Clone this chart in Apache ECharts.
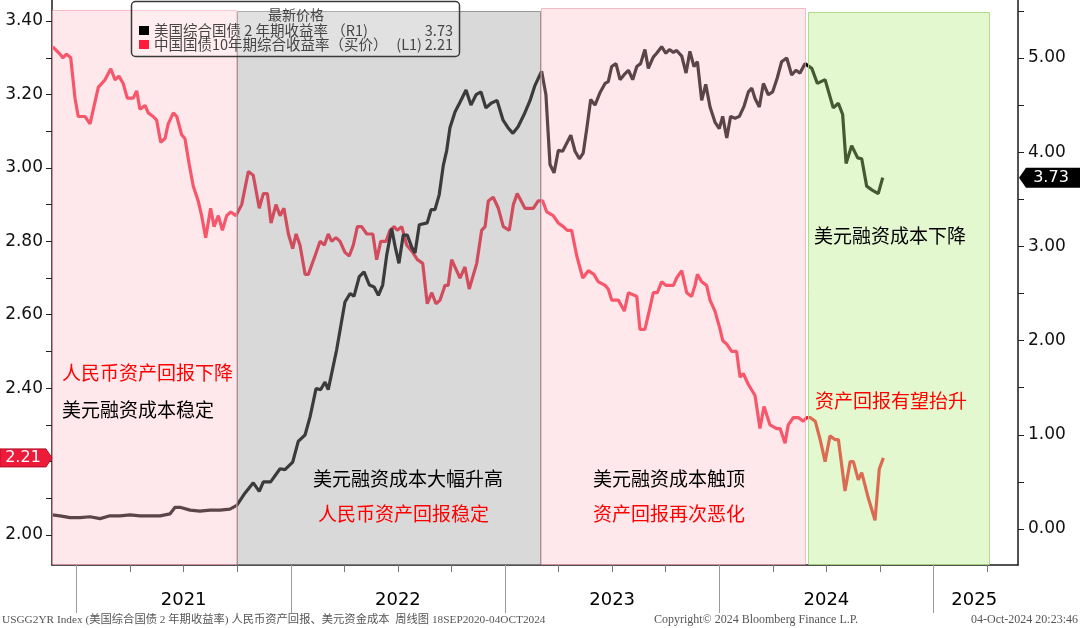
<!DOCTYPE html>
<html><head><meta charset="utf-8">
<script src="https://cdn.jsdelivr.net/npm/echarts@6/dist/echarts.min.js"></script>
<style>html,body{margin:0;padding:0;background:#fff}#c{width:1080px;height:628px}</style>
</head><body><div id="c"></div>
<script>
// ---- data (x = decimal year, y = yield %) ----
const us2yYield = [
[2020.886,0.15],[2020.923,0.14],[2020.970,0.12],[2021.016,0.12],[2021.063,0.13],[2021.110,0.11],[2021.156,0.14],[2021.203,0.14],[2021.250,0.15],[2021.296,0.14],[2021.343,0.14],[2021.390,0.14],[2021.436,0.16],[2021.460,0.23],[2021.483,0.23],[2021.530,0.20],[2021.576,0.19],[2021.623,0.20],[2021.670,0.20],[2021.716,0.21],
[2021.748,0.25],[2021.786,0.38],[2021.825,0.49],[2021.853,0.40],[2021.872,0.50],[2021.906,0.50],[2021.950,0.64],[2021.973,0.63],[2022.009,0.71],[2022.035,0.93],[2022.067,1.00],[2022.090,1.19],[2022.118,1.49],[2022.140,1.48],[2022.160,1.56],[2022.175,1.48],[2022.214,1.90],[2022.253,2.41],[2022.277,2.50],[2022.295,2.47],[2022.320,2.68],[2022.342,2.73],[2022.367,2.59],[2022.389,2.57],[2022.409,2.48],[2022.429,2.59],[2022.448,2.91],[2022.471,3.19],[2022.487,3.00],[2022.505,2.82],[2022.525,3.12],[2022.544,3.12],[2022.565,2.99],[2022.580,2.93],[2022.600,3.23],[2022.637,3.25],[2022.655,3.39],[2022.673,3.39],[2022.693,3.55],[2022.712,3.86],[2022.728,4.02],
[2022.743,4.26],[2022.767,4.43],[2022.790,4.53],[2022.818,4.66],[2022.841,4.50],[2022.865,4.61],[2022.888,4.64],[2022.911,4.47],[2022.935,4.52],[2022.963,4.55],[2022.991,4.34],[2023.014,4.26],[2023.037,4.20],[2023.061,4.27],[2023.089,4.40],[2023.117,4.55],[2023.140,4.71],
[2023.171,4.86],[2023.191,4.61],[2023.210,3.87],[2023.229,3.78],[2023.249,4.02],[2023.269,4.01],[2023.307,4.18],[2023.327,4.01],[2023.347,3.93],[2023.365,3.99],[2023.381,4.24],[2023.400,4.56],[2023.420,4.50],[2023.443,4.63],[2023.467,4.73],[2023.482,4.75],[2023.498,4.91],[2023.518,4.94],[2023.537,4.77],[2023.555,4.82],[2023.576,4.87],[2023.596,4.77],[2023.615,4.91],[2023.633,4.94],[2023.653,5.09],[2023.669,4.89],[2023.692,5.01],[2023.708,5.05],[2023.731,5.12],[2023.751,5.05],[2023.767,5.09],[2023.786,5.06],[2023.801,5.08],[2023.825,5.02],[2023.845,4.84],[2023.863,5.07],[2023.882,4.91],[2023.898,4.96],[2023.918,4.55],[2023.937,4.72],[2023.957,4.48],[2023.980,4.32],
[2024.000,4.25],[2024.016,4.38],[2024.035,4.15],[2024.053,4.38],[2024.074,4.36],[2024.094,4.38],[2024.116,4.49],[2024.136,4.64],[2024.152,4.68],[2024.167,4.57],[2024.187,4.48],[2024.206,4.73],[2024.229,4.61],[2024.249,4.64],[2024.271,4.79],[2024.291,4.96],[2024.315,5.00],[2024.338,4.82],[2024.358,4.87],[2024.377,4.84],[2024.400,4.94],
[2024.432,4.89],[2024.458,4.73],[2024.494,4.77],[2024.532,4.47],[2024.556,4.52],[2024.576,4.40],[2024.592,3.88],[2024.618,4.07],[2024.646,3.94],[2024.665,3.93],[2024.688,3.64],[2024.712,3.60],[2024.742,3.56],[2024.763,3.73]
];
const cn10yYield = [
[2020.889,3.33],[2020.923,3.31],[2020.936,3.30],[2020.954,3.31],[2020.973,3.30],[2020.993,3.19],[2021.008,3.14],[2021.040,3.14],[2021.063,3.12],[2021.102,3.22],[2021.133,3.24],[2021.160,3.27],[2021.180,3.24],[2021.198,3.25],[2021.218,3.23],[2021.237,3.19],[2021.265,3.19],[2021.281,3.21],[2021.296,3.16],[2021.320,3.17],[2021.335,3.15],[2021.358,3.14],[2021.374,3.13],[2021.393,3.07],[2021.413,3.08],[2021.428,3.12],[2021.452,3.15],[2021.468,3.14],[2021.491,3.09],[2021.506,3.08],[2021.526,3.01],[2021.545,2.95],[2021.568,2.91],[2021.584,2.87],[2021.603,2.81],[2021.626,2.89],[2021.642,2.84],[2021.662,2.87],[2021.681,2.83],[2021.701,2.87],[2021.720,2.88],[2021.744,2.87],
[2021.771,2.90],[2021.802,2.99],[2021.825,2.98],[2021.853,2.89],[2021.872,2.93],[2021.891,2.93],[2021.908,2.85],[2021.931,2.90],[2021.950,2.87],[2021.968,2.89],[2021.989,2.82],[2022.009,2.78],[2022.025,2.82],[2022.043,2.79],[2022.067,2.71],[2022.082,2.71],[2022.113,2.76],[2022.137,2.80],[2022.157,2.79],[2022.175,2.82],[2022.191,2.80],[2022.211,2.81],[2022.230,2.80],[2022.253,2.77],[2022.273,2.76],[2022.292,2.79],[2022.311,2.84],[2022.331,2.84],[2022.355,2.82],[2022.383,2.82],[2022.401,2.75],[2022.420,2.80],[2022.445,2.80],[2022.463,2.83],[2022.482,2.84],[2022.497,2.83],[2022.518,2.84],[2022.541,2.79],[2022.569,2.77],[2022.591,2.75],[2022.616,2.74],[2022.637,2.63],[2022.658,2.66],[2022.678,2.63],[2022.697,2.64],[2022.720,2.68],[2022.735,2.68],[2022.751,2.75],[2022.790,2.70],[2022.813,2.73],[2022.833,2.67],[2022.868,2.74],[2022.891,2.83],[2022.907,2.84],[2022.922,2.91],[2022.945,2.92],[2022.969,2.89],[2022.992,2.84],[2023.020,2.83],[2023.039,2.90],[2023.057,2.93],[2023.093,2.89],[2023.132,2.89],[2023.155,2.91],[2023.176,2.91],
[2023.195,2.88],[2023.225,2.87],[2023.249,2.85],[2023.272,2.84],[2023.291,2.83],[2023.311,2.83],[2023.335,2.76],[2023.363,2.70],[2023.389,2.72],[2023.415,2.71],[2023.435,2.69],[2023.467,2.68],[2023.482,2.67],[2023.498,2.64],[2023.529,2.64],[2023.557,2.61],[2023.576,2.66],[2023.615,2.65],[2023.630,2.56],[2023.653,2.56],[2023.677,2.62],[2023.692,2.66],[2023.711,2.66],[2023.731,2.69],[2023.751,2.68],[2023.786,2.68],[2023.801,2.70],[2023.825,2.72],[2023.848,2.66],[2023.871,2.65],[2023.887,2.68],[2023.898,2.71],[2023.918,2.69],[2023.941,2.68],[2023.957,2.64],[2023.980,2.61],
[2024.004,2.56],[2024.016,2.53],[2024.035,2.52],[2024.058,2.50],[2024.081,2.50],[2024.097,2.43],[2024.112,2.44],[2024.136,2.41],[2024.167,2.38],[2024.190,2.29],[2024.209,2.35],[2024.237,2.30],[2024.268,2.29],[2024.284,2.29],[2024.307,2.25],[2024.322,2.30],[2024.346,2.32],[2024.369,2.32],[2024.392,2.31],[2024.408,2.32],[2024.424,2.32],[2024.448,2.31],[2024.471,2.26],[2024.494,2.20],[2024.517,2.27],[2024.540,2.26],[2024.556,2.26],[2024.587,2.12],[2024.611,2.20],[2024.626,2.20],[2024.649,2.15],[2024.665,2.17],[2024.696,2.10],[2024.727,2.04],[2024.747,2.18],[2024.766,2.21]
];
// shaded periods: [start year, end year, top value (left axis), style index]
const periods = [
  [2020.8856, 2021.75, 3.430, 0],
  [2021.75, 2023.17, 3.427, 1],
  [2023.17, 2024.405, 3.436, 0],
  [2024.414, 2025.264, 3.425, 2]
];
const leftLabelValues = [2.0, 2.2, 2.4, 2.6, 2.8, 3.0, 3.2, 3.4];
const leftTickValues = [2.0, 2.1, 2.2, 2.3, 2.4, 2.5, 2.6, 2.7, 2.8, 2.9, 3.0, 3.1, 3.2, 3.3, 3.4];
const rightLabelValues = [0, 1, 2, 3, 4, 5];
const rightTickValues = [0, 0.5, 1, 1.5, 2, 2.5, 3, 3.5, 4, 4.5, 5, 5.5];
const quarterTicks = [2021, 2021.25, 2021.5, 2021.75, 2022, 2022.25, 2022.5, 2022.75, 2023, 2023.25, 2023.5, 2023.75, 2024, 2024.25, 2024.5, 2024.75, 2025, 2025.25];
const yearTicks = [2021, 2022, 2023, 2024, 2025];
const yearLabelPositions = [2021.5, 2022.5, 2023.5, 2024.5, 2025.19];
const xMin = 2020.8856, xMax = 2025.3944;
const leftMin = 1.9183, leftMax = 3.4574;
const rightMin = -0.3822, rightMax = 5.6157;

const usName = '美国综合国债 2 年期收益率';
const cnName = '中国国债10年期综合收益率（买价）';
const annotations = [
  ['人民币资产回报下降', '#FF0000', 62, 373],
  ['美元融资成本稳定', '#000000', 62, 410],
  ['美元融资成本大幅升高', '#000000', 313, 479],
  ['人民币资产回报稳定', '#FF0000', 318, 514],
  ['美元融资成本触顶', '#000000', 593, 479],
  ['资产回报再次恶化', '#FF0000', 593, 514],
  ['美元融资成本下降', '#000000', 814, 236],
  ['资产回报有望抬升', '#FF0000', 815, 401]
];

const periodStyles = [
  {fill: 'rgba(255,190,200,0.36)', stroke: 'rgba(245,160,180,0.7)'},
  {fill: 'rgba(156,156,156,0.38)', stroke: 'rgba(130,130,130,0.8)'},
  {fill: 'rgba(184,237,131,0.38)', stroke: 'rgba(170,215,130,0.9)'}
];
const FONT = 'DejaVu Sans';
const CJK = '"Noto Sans CJK SC"';

const chart = echarts.init(document.getElementById('c'), null, {renderer: 'canvas'});
chart.setOption({
  animation: false,
  backgroundColor: '#ffffff',
  grid: {left: 52, right: 62, top: 0, bottom: 63},
  xAxis: [{
    type: 'value', min: xMin, max: xMax, position: 'bottom',
    axisLine: {show: true, onZero: false, lineStyle: {color: '#1a1a1a', width: 1.5}},
    axisTick: {show: true, customValues: quarterTicks, length: 7, lineStyle: {color: '#777'}},
    axisLabel: {customValues: yearLabelPositions, formatter: v => String(Math.floor(v)), margin: 26,
      fontFamily: FONT, fontSize: 18, color: '#000'},
    splitLine: {show: false}
  }, {
    type: 'value', min: xMin, max: xMax, position: 'bottom', gridIndex: 0,
    axisLine: {show: false, onZero: false},
    axisTick: {show: true, customValues: yearTicks, length: 48, lineStyle: {color: '#999'}},
    axisLabel: {show: false}, splitLine: {show: false}
  }],
  yAxis: [{
    type: 'value', position: 'left', min: leftMin, max: leftMax,
    axisLine: {show: true, onZero: false, lineStyle: {color: '#1a1a1a', width: 1.5}},
    axisTick: {show: true, customValues: leftTickValues, length: 6, lineStyle: {color: '#222'}},
    axisLabel: {customValues: leftLabelValues, formatter: v => v.toFixed(2), margin: 9,
      fontFamily: FONT, fontSize: 17, color: '#111'},
    splitLine: {show: false}
  }, {
    type: 'value', position: 'right', min: rightMin, max: rightMax,
    axisLine: {show: true, onZero: false, lineStyle: {color: '#1a1a1a', width: 1.5}},
    axisTick: {show: true, customValues: rightTickValues, length: 6, lineStyle: {color: '#222'}},
    axisLabel: {customValues: rightLabelValues, formatter: v => v.toFixed(2), margin: 10,
      fontFamily: FONT, fontSize: 17, color: '#111'},
    splitLine: {show: false}
  }],
  series: [{
    type: 'line', name: cnName, xAxisIndex: 0, yAxisIndex: 0, data: cn10yYield,
    symbol: 'none', lineStyle: {color: '#F21C38', width: 3.2}, z: 2
  }, {
    type: 'line', name: usName, xAxisIndex: 0, yAxisIndex: 1, data: us2yYield,
    symbol: 'none', lineStyle: {color: '#000000', width: 3.2}, z: 3
  }, {
    type: 'custom', xAxisIndex: 0, yAxisIndex: 0, z: 6, silent: true,
    encode: {x: [0, 1], y: 2},
    data: periods,
    renderItem: (params, api) => {
      const s = api.value(0), e = api.value(1), top = api.value(2), k = api.value(3);
      const p1 = api.coord([s, top]);
      const p2 = api.coord([e, leftMin]);
      const st = periodStyles[k];
      return {type: 'rect',
        shape: {x: Math.round(p1[0]) + 0.5, y: Math.round(p1[1]) + 0.5,
          width: Math.round(p2[0] - p1[0]) - 1, height: Math.round(p2[1] - p1[1]) - 1},
        style: {fill: st.fill, stroke: st.stroke, lineWidth: 1}};
    }
  }]
});

const lastCn = cn10yYield[cn10yYield.length - 1][1];
const lastUs = us2yYield[us2yYield.length - 1][1];
const yCn = chart.convertToPixel({yAxisIndex: 0}, lastCn);
const yUs = chart.convertToPixel({yAxisIndex: 1}, lastUs);

const legendFont = '14.5px ' + CJK;
const g = [];
// legend box
g.push({type: 'rect', z: 100, shape: {x: 131.5, y: 1.5, width: 328, height: 55, r: 4},
  style: {fill: 'rgba(255,255,255,0.22)', stroke: '#3a3a3a', lineWidth: 1.5}});
g.push({type: 'text', z: 101, x: 296, y: 14.5, style: {text: '最新价格', fill: '#444',
  font: '14px ' + CJK, textAlign: 'center', textVerticalAlign: 'middle'}});
g.push({type: 'rect', z: 101, shape: {x: 139, y: 26, width: 10, height: 9}, style: {fill: '#000'}});
g.push({type: 'rect', z: 101, shape: {x: 139, y: 40, width: 10, height: 9}, style: {fill: '#FF1A3C'}});
g.push({type: 'text', z: 101, x: 154, y: 30.5, style: {text: usName + ' （R1)', fill: '#444',
  font: legendFont, textAlign: 'left', textVerticalAlign: 'middle'}});
g.push({type: 'text', z: 101, x: 154, y: 44.5, style: {text: cnName, fill: '#444',
  font: legendFont, textAlign: 'left', textVerticalAlign: 'middle'}});
g.push({type: 'text', z: 101, x: 422, y: 44.5, style: {text: '(L1)', fill: '#444',
  font: legendFont, textAlign: 'right', textVerticalAlign: 'middle'}});
g.push({type: 'text', z: 101, x: 453, y: 30.5, style: {text: lastUs.toFixed(2), fill: '#444',
  font: legendFont, textAlign: 'right', textVerticalAlign: 'middle'}});
g.push({type: 'text', z: 101, x: 453, y: 44.5, style: {text: lastCn.toFixed(2), fill: '#444',
  font: legendFont, textAlign: 'right', textVerticalAlign: 'middle'}});
// annotations
annotations.forEach(a => g.push({type: 'text', z: 100, x: a[2], y: a[3],
  style: {text: a[0], fill: a[1], font: '19px ' + CJK, textAlign: 'left', textVerticalAlign: 'middle'}}));
// last value tags
g.push({type: 'polygon', z: 110, shape: {points: [[0, yCn - 9], [46, yCn - 9], [52, yCn], [46, yCn + 9], [0, yCn + 9]]},
  style: {fill: '#EE1A3A', stroke: '#B0102A', lineWidth: 1}});
g.push({type: 'text', z: 111, x: 23, y: yCn, style: {text: lastCn.toFixed(2), fill: '#fff',
  font: '16px ' + FONT, textAlign: 'center', textVerticalAlign: 'middle'}});
g.push({type: 'polygon', z: 110, shape: {points: [[1019, yUs], [1026, yUs - 10], [1080, yUs - 10], [1080, yUs + 10], [1026, yUs + 10]]},
  style: {fill: '#000'}});
g.push({type: 'text', z: 111, x: 1051, y: yUs, style: {text: lastUs.toFixed(2), fill: '#fff',
  font: '16px ' + FONT, textAlign: 'center', textVerticalAlign: 'middle'}});
// footer
const footFont = '12px "Liberation Serif", ' + CJK;
const footFontLeft = '11.3px "Liberation Serif", ' + CJK;
g.push({type: 'text', z: 100, x: 2, y: 620, style: {text: 'USGG2YR Index (美国综合国债 2 年期收益率) 人民币资产回报、美元资金成本  周线图 18SEP2020-04OCT2024',
  fill: '#555', font: footFontLeft, textAlign: 'left', textVerticalAlign: 'middle'}});
g.push({type: 'text', z: 100, x: 756, y: 620, style: {text: 'Copyright© 2024 Bloomberg Finance L.P.',
  fill: '#555', font: footFont, textAlign: 'center', textVerticalAlign: 'middle'}});
g.push({type: 'text', z: 100, x: 1078, y: 620, style: {text: '04-Oct-2024 20:23:46',
  fill: '#555', font: footFont, textAlign: 'right', textVerticalAlign: 'middle'}});
chart.setOption({graphic: g});
</script>
</body></html>
